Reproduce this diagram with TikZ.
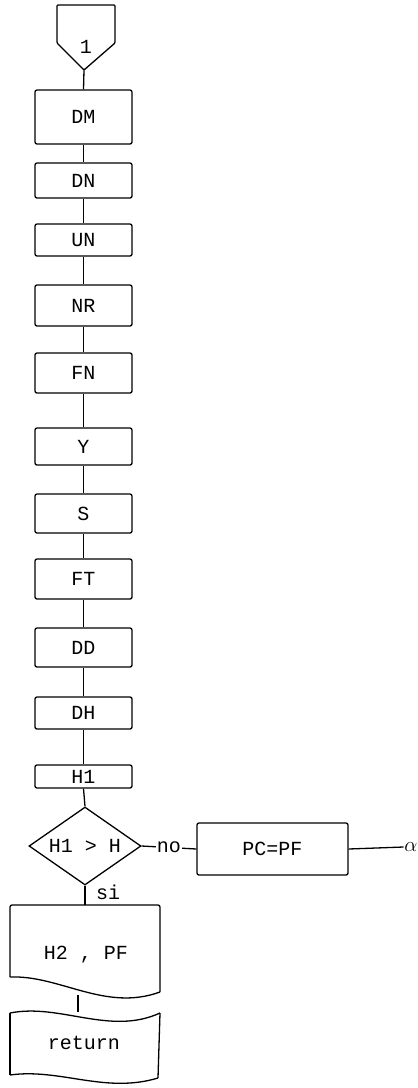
\documentclass[tikz,border=0pt]{standalone}
\usepackage{fontspec}
\setmonofont{Liberation Mono}
\usetikzlibrary{shapes.geometric}
\begin{document}
\begin{tikzpicture}[x=1pt,y=-1pt,
  every node/.style={font=\ttfamily\fontsize{20}{24}\selectfont},
  line/.style={line width=1.3pt, line join=round},
  box/.style={draw, line width=1.3pt, rounded corners=2pt, minimum width=97pt, inner sep=0pt},
  lbl/.style={inner sep=1pt}]
\useasboundingbox (0,0) rectangle (418,1088);
% off-page connector
\draw[line, rounded corners=1pt] (57,5) -- (115,5) -- (115,43) -- (84,70) -- (57,43) -- cycle;
\coordinate (conP) at (84,70);
\node[lbl] (one) at (86,47) {1};
% boxes
\node[box, minimum height=54pt] (DM) at (83.5,117) {DM};
\node[box, minimum height=35pt] (DN) at (83.5,180.5) {DN};
\node[box, minimum height=32pt] (UN) at (83.5,240) {UN};
\node[box, minimum height=41pt] (NR) at (83.5,305.5) {NR};
\node[box, minimum height=40pt] (FN) at (83.5,373) {FN};
\node[box, minimum height=37pt] (Y) at (83.5,446.5) {Y};
\node[box, minimum height=39pt] (S) at (83.5,513.5) {S};
\node[box, minimum height=40pt] (FT) at (83.5,579) {FT};
\node[box, minimum height=39pt] (DD) at (83.5,647.5) {DD};
\node[box, minimum height=32pt] (DH) at (83.5,713) {DH};
\node[box, minimum height=23pt] (H1) at (83.5,776.5) {H1};
% decision
\node[diamond, draw, line width=1.3pt, minimum width=112pt, minimum height=78pt, aspect=1.44, inner sep=0pt] (dec) at (85,846) {H1 > H};
% PC=PF
\node[box, minimum width=151pt, minimum height=52pt] (pc) at (272.5,849) {PC=PF};
\node[anchor=east, inner sep=0.5pt, font=\fontsize{20}{24}\selectfont] (alpha) at (418,847) {$\alpha$};
% connections
\draw[line] (conP) -- (DM.north);
\draw[line] (DM.south) -- (DN.north);
\draw[line] (DN.south) -- (UN.north);
\draw[line] (UN.south) -- (NR.north);
\draw[line] (NR.south) -- (FN.north);
\draw[line] (FN.south) -- (Y.north);
\draw[line] (Y.south) -- (S.north);
\draw[line] (S.south) -- (FT.north);
\draw[line] (FT.south) -- (DD.north);
\draw[line] (DD.south) -- (DH.north);
\draw[line] (DH.south) -- (H1.north);
\draw[line] (H1.south) -- (dec.north);
\draw[line] (dec.east) -- node[fill=white, lbl] (no) {no} (pc.west);
\draw[line] (pc.east) -- (alpha.west);
% document H2, PF
\draw[line, rounded corners=2pt] (10,977) -- (10,905) -- (160,905) -- (160,992);
\draw[line] (160,992) .. controls (105,1012) and (60,975) .. (10,977);
\node (doc) at (86,955) {H2 , PF};
\coordinate (docT) at (85,905);
\coordinate (docB) at (78,995);
\draw[line] (dec.south) -- (docT);
\node[lbl, anchor=west] (si) at (95,892) {si};
% return tape
\draw[line, rounded corners=2pt] (10,1075) -- (10,1013);
\draw[line] (10,1013) .. controls (60,1003) and (110,1036) .. (160,1013);
\draw[line, rounded corners=2pt] (160,1013) -- (158,1078);
\draw[line] (158,1078) .. controls (105,1094) and (60,1068) .. (10,1075);
\node (ret) at (84,1043) {return};
\coordinate (retT) at (78,1012);
\draw[line] (docB) -- (retT);
\end{tikzpicture}
\end{document}
